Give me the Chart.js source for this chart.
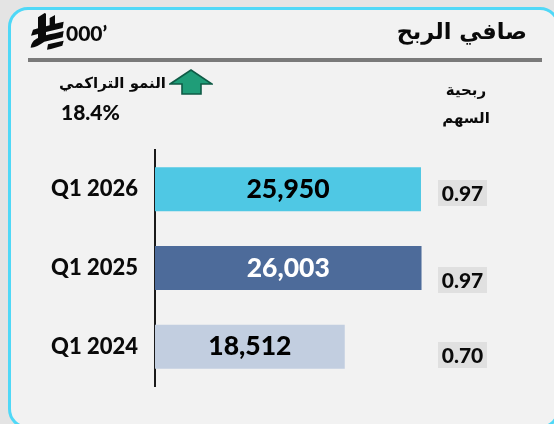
<!DOCTYPE html>
<html lang="ar"><head><meta charset="utf-8">
<style>
html,body{margin:0;padding:0;width:554px;height:424px;overflow:hidden;background:#e4e4e4}
#panel{position:absolute;left:8px;top:7px;width:552px;height:422px;box-sizing:border-box;background:#f2f2f2;border:3px solid #4fd8f7;border-radius:20px}
#rule{position:absolute;left:28px;top:58px;width:514px;height:4px;background:#7a7a7a}
canvas{position:absolute;left:0;top:0}
.t{position:absolute;white-space:nowrap;color:#0a0a0a;font-weight:700}
.ar{font-family:"DejaVu Sans",sans-serif;direction:rtl}
.la{font-family:Lato,sans-serif;font-weight:900}
.eps{position:absolute;left:438px;width:49px;height:26px;background:#e0e0e0;text-align:center;font:900 21px/26px Lato,sans-serif;color:#0a0a0a}
</style></head><body>
<div id="panel"></div><div id="rule"></div>
<div style="position:absolute;left:0;top:0;width:554px;height:424px;overflow:hidden"><canvas id="c" width="554" height="424"></canvas></div>
<div class="t ar" style="right:27px;top:18px;font-size:22.5px">صافي الربح</div>
<svg style="position:absolute;left:29px;top:12px" width="36" height="38" viewBox="87 36 102 114">
<path fill="#0a0a0a" d="M111 52 L131 39 L135 41 L135 79 L146 76 L146 54 L162 45 L162 71 L188 65 L185 84 L135 96 L135 106 L146 103 L162 100 L188 93 L185 112 L130 125 C116 135 102 142 89 143 C91 128 98 120 111 114 L111 102 L90 107 L96 89 L111 85 Z M141 133 L188 122 L184 137 L150 147 L138 149 Z"/>
</svg>
<div class="t la" style="left:66px;top:20px;font-size:21px">000’</div>
<svg style="position:absolute;left:169px;top:69px" width="44" height="27" viewBox="0 0 44 27">
<path d="M1 15 L22 1 L43 15 L32 15 L32 25 L13 25 L13 15 Z" fill="#1f9d78" stroke="#0f5b46" stroke-width="1.6"/>
</svg>
<div class="t ar" style="left:56px;top:74px;width:110px;text-align:right;font-size:15px">النمو التراكمي</div>
<div class="t la" style="left:61px;top:99px;font-size:21px" id="cagr"></div>
<div class="t ar" style="left:430px;top:76px;width:72px;text-align:center;font-size:15px;line-height:28px;white-space:normal">ربحية<br>السهم</div>
<div id="epsHost"></div>
<script src="https://cdn.jsdelivr.net/npm/chart.js@4"></script>
<script>
const categories = ["Q1 2026", "Q1 2025", "Q1 2024"];
const netProfit = [25950, 26003, 18512];
const barColors = ["#4fc8e4", "#4d6b9a", "#c2cee0"];
const labelColors = ["#000000", "#ffffff", "#000000"];
const eps = ["0.97", "0.97", "0.70"];
const epsTops = [180, 267, 342];
const cumulativeGrowth = "18.4%";

document.getElementById("cagr").textContent = cumulativeGrowth;
const host = document.getElementById("epsHost");
eps.forEach((v, i) => {
  const d = document.createElement("div");
  d.className = "eps"; d.style.top = epsTops[i] + "px"; d.textContent = v;
  host.appendChild(d);
});

const valueLabels = {
  id: "valueLabels",
  afterDatasetsDraw(chart) {
    const ctx = chart.ctx, meta = chart.getDatasetMeta(0);
    ctx.save();
    ctx.font = "900 26.5px Lato, sans-serif";
    ctx.textAlign = "center"; ctx.textBaseline = "middle";
    meta.data.forEach((bar, i) => {
      ctx.fillStyle = labelColors[i];
      const x = (bar.base + bar.x) / 2;
      ctx.fillText(netProfit[i].toLocaleString("en-US"), x, bar.y);
    });
    ctx.restore();
  }
};

new Chart(document.getElementById("c"), {
  type: "bar",
  data: { labels: categories, datasets: [{ data: netProfit, backgroundColor: barColors, borderWidth: 0, categoryPercentage: 1, barPercentage: 0.56 }] },
  options: {
    indexAxis: "y", responsive: false, animation: false,
    layout: { padding: { top: 150, bottom: 38, left: 0, right: 91.5 } },
    plugins: { legend: { display: false }, tooltip: { enabled: false } },
    scales: {
      x: { display: false, min: 0, max: 30000 },
      y: {
        afterFit(s) { s.width = 155; },
        grid: { display: false, drawTicks: false, tickLength: 0 },
        border: { display: true, color: "#1a1a1a", width: 2 },
        ticks: { color: "#0a0a0a", padding: 17, font: { family: "Lato, sans-serif", weight: "900", size: 22 } }
      }
    }
  },
  plugins: [valueLabels]
});
</script>
</body></html>
